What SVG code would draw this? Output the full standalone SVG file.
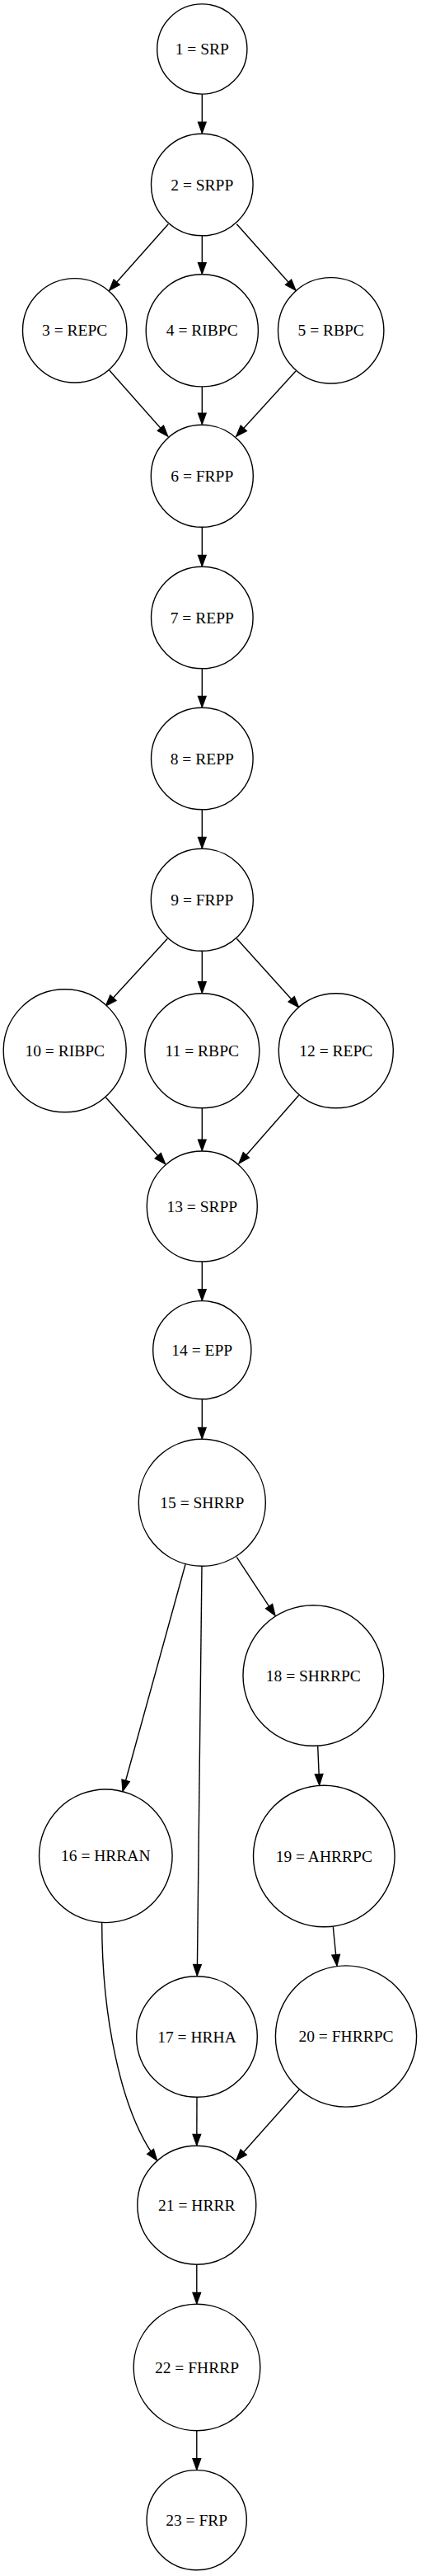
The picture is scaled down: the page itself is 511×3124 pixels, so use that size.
<svg xmlns="http://www.w3.org/2000/svg" width="511" height="3124" viewBox="0 0 511 3124">
<style>
.n circle{fill:#fff;stroke:#000;stroke-width:1.4}
.n text{font-family:"Liberation Serif","Times New Roman",serif;font-size:19.5px;text-anchor:middle;fill:#000}
#edges path,#edges line{fill:none;stroke:#000;stroke-width:1.4;marker-end:url(#arr)}
</style>
<defs>
<marker id="arr" markerUnits="userSpaceOnUse" markerWidth="20" markerHeight="14" viewBox="-2 -2 18 14" refX="13.5" refY="4.9" orient="auto">
<path d="M0,0 L13.5,4.9 L0,9.8 z" fill="#000" stroke="#000" stroke-width="1.2"/>
</marker>
</defs>
<rect width="511" height="3124" fill="#fff"/>
<g id="edges">
<line x1="245.3" y1="114" x2="245.3" y2="161.5"/>
<line x1="204.3" y1="271.7" x2="132.7" y2="352.3"/>
<line x1="245.3" y1="285.7" x2="245.3" y2="332.2"/>
<line x1="287.3" y1="271.7" x2="359" y2="352.3"/>
<line x1="132.7" y1="449" x2="203.8" y2="529.3"/>
<line x1="245.3" y1="469" x2="245.3" y2="514.5"/>
<line x1="359" y1="450" x2="286.7" y2="529.3"/>
<line x1="245.3" y1="639.3" x2="245.3" y2="686.8"/>
<line x1="245.3" y1="810.7" x2="245.3" y2="857.8"/>
<line x1="245.3" y1="981.7" x2="245.3" y2="1028.8"/>
<line x1="203.3" y1="1138.3" x2="128.3" y2="1220"/>
<line x1="245.3" y1="1153.3" x2="245.3" y2="1204.2"/>
<line x1="287.3" y1="1138.3" x2="362.7" y2="1221.7"/>
<line x1="128.3" y1="1330.7" x2="200.7" y2="1411.7"/>
<line x1="245.3" y1="1344" x2="245.3" y2="1395.5"/>
<line x1="362.7" y1="1328.3" x2="290" y2="1411"/>
<line x1="245.3" y1="1530" x2="245.3" y2="1577.2"/>
<line x1="245.3" y1="1696.7" x2="245.3" y2="1744.8"/>
<line x1="287.3" y1="1888.3" x2="334" y2="1959.3"/>
<line x1="225" y1="1897.3" x2="149" y2="2172.3"/>
<line x1="245" y1="1899.3" x2="239.3" y2="2396"/>
<line x1="385.7" y1="2117.7" x2="387.7" y2="2165"/>
<line x1="404.3" y1="2336.7" x2="409" y2="2384"/>
<path d="M123.7,2331.7 C123.7,2440 145,2560 190.7,2620"/>
<line x1="239" y1="2543.3" x2="238.8" y2="2601.8"/>
<line x1="363.3" y1="2534" x2="286.7" y2="2620"/>
<line x1="238.8" y1="2746" x2="238.8" y2="2793.8"/>
<line x1="238.8" y1="2947.7" x2="238.8" y2="2995.2"/>
</g>
<g id="n1" class="n"><circle cx="245.3" cy="59.5" r="54.6"/><text x="245.3" y="66">1 = SRP</text></g>
<g id="n2" class="n"><circle cx="245.3" cy="224" r="61.8"/><text x="245.3" y="230.5">2 = SRPP</text></g>
<g id="n3" class="n"><circle cx="90.7" cy="400.8" r="63.2"/><text x="90.7" y="407.3">3 = REPC</text></g>
<g id="n4" class="n"><circle cx="245.3" cy="400.8" r="68.1"/><text x="245.3" y="407.3">4 = RIBPC</text></g>
<g id="n5" class="n"><circle cx="401.7" cy="400.8" r="64.2"/><text x="401.7" y="407.3">5 = RBPC</text></g>
<g id="n6" class="n"><circle cx="245.3" cy="577.3" r="62"/><text x="245.3" y="583.8">6 = FRPP</text></g>
<g id="n7" class="n"><circle cx="245.3" cy="749" r="61.8"/><text x="245.3" y="755.5">7 = REPP</text></g>
<g id="n8" class="n"><circle cx="245.3" cy="920" r="61.8"/><text x="245.3" y="926.5">8 = REPP</text></g>
<g id="n9" class="n"><circle cx="245.3" cy="1091.3" r="62"/><text x="245.3" y="1097.8">9 = FRPP</text></g>
<g id="n10" class="n"><circle cx="78.7" cy="1274.3" r="74.5"/><text x="78.7" y="1280.8">10 = RIBPC</text></g>
<g id="n11" class="n"><circle cx="245.3" cy="1274.3" r="69.5"/><text x="245.3" y="1280.8">11 = RBPC</text></g>
<g id="n12" class="n"><circle cx="407.8" cy="1274.3" r="69.5"/><text x="407.8" y="1280.8">12 = REPC</text></g>
<g id="n13" class="n"><circle cx="245.3" cy="1463" r="67"/><text x="245.3" y="1469.5">13 = SRPP</text></g>
<g id="n14" class="n"><circle cx="245.3" cy="1637.2" r="59.6"/><text x="245.3" y="1643.7">14 = EPP</text></g>
<g id="n15" class="n"><circle cx="245.3" cy="1822.3" r="77"/><text x="245.3" y="1828.8">15 = SHRRP</text></g>
<g id="n16" class="n"><circle cx="128.3" cy="2250.8" r="80.8"/><text x="128.3" y="2257.3">16 = HRRAN</text></g>
<g id="n17" class="n"><circle cx="239" cy="2470" r="73.3"/><text x="239" y="2476.5">17 = HRHA</text></g>
<g id="n18" class="n"><circle cx="380.3" cy="2032" r="85.3"/><text x="380.3" y="2038.5">18 = SHRRPC</text></g>
<g id="n19" class="n"><circle cx="393.3" cy="2251" r="85.8"/><text x="393.3" y="2257.5">19 = AHRRPC</text></g>
<g id="n20" class="n"><circle cx="420" cy="2469.5" r="85.6"/><text x="420" y="2476">20 = FHRRPC</text></g>
<g id="n21" class="n"><circle cx="238.8" cy="2674.2" r="72"/><text x="238.8" y="2680.7">21 = HRRR</text></g>
<g id="n22" class="n"><circle cx="239" cy="2871" r="76.8"/><text x="239" y="2877.5">22 = FHRRP</text></g>
<g id="n23" class="n"><circle cx="238.7" cy="3056.2" r="60.6"/><text x="238.7" y="3062.7">23 = FRP</text></g>
</svg>
